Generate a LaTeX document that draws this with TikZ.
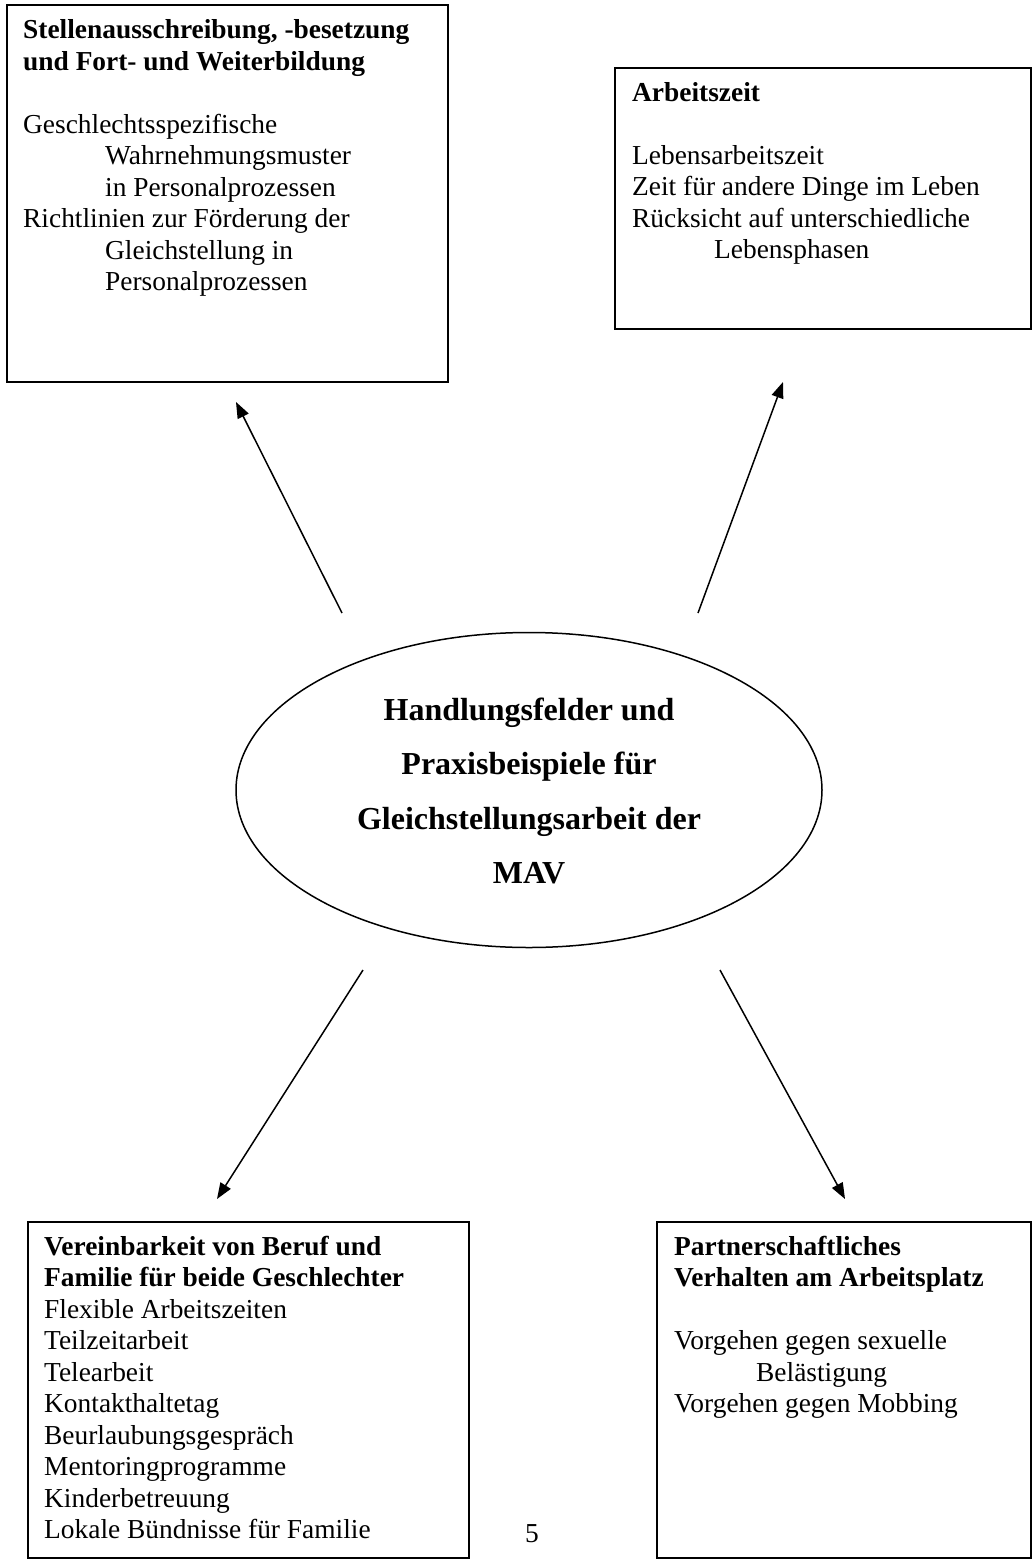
\documentclass[tikz,border=0pt]{standalone}
\usepackage{fontspec}
\setmainfont{Liberation Serif}
\usetikzlibrary{arrows.meta,shapes.geometric}
\newcommand\bodyfont{\fontsize{27.4pt}{31.5pt}\selectfont}
\newcommand\centerfont{\fontsize{32pt}{54.5pt}\selectfont\bfseries}
\newcommand\ind{\hspace*{82pt}}
\tikzset{
  frame/.style={draw, line width=1.8pt, rectangle, inner sep=0pt, anchor=north west},
  txt/.style={anchor=base west, inner sep=0pt, font=\bodyfont},
  arr/.style={line width=1.5pt, -{Triangle[length=16pt,width=12pt]}},
}
\begin{document}
\begin{tikzpicture}[x=1pt,y=-1pt]
\useasboundingbox (0,0) rectangle (1032,1563);

% boxes
\node[frame, minimum width=441pt, minimum height=377pt] (boxA) at (6,4) {};
\node[frame, minimum width=416pt, minimum height=261pt] (boxB) at (614,67) {};
\node[frame, minimum width=441pt, minimum height=336pt] (boxC) at (27,1221) {};
\node[frame, minimum width=374pt, minimum height=336pt] (boxD) at (656,1221) {};

% centre ellipse
\node[draw, ellipse, line width=1.5pt, minimum width=586pt, minimum height=315pt, inner sep=0pt] (centre) at (529,790) {};
\node[anchor=base, inner sep=0pt, font=\centerfont] (centretext) at (529,720)
  {\begin{tabular}[t]{@{}c@{}}Handlungsfelder und\\ Praxisbeispiele für\\ Gleichstellungsarbeit der\\ MAV\end{tabular}};

% box texts
\node[txt] (textA) at (23,39) {\begin{tabular}[t]{@{}l@{}}
\textbf{Stellenausschreibung, -besetzung}\\
\textbf{und Fort- und Weiterbildung}\\
\\
Geschlechtsspezifische\\
\ind Wahrnehmungsmuster\\
\ind in Personalprozessen\\
Richtlinien zur Förderung der\\
\ind Gleichstellung in\\
\ind Personalprozessen
\end{tabular}};

\node[txt] (textB) at (632,101) {\begin{tabular}[t]{@{}l@{}}
\textbf{Arbeitszeit}\\
\\
Lebensarbeitszeit\\
Zeit für andere Dinge im Leben\\
Rücksicht auf unterschiedliche\\
\ind Lebensphasen
\end{tabular}};

\node[txt] (textC) at (44,1255) {\begin{tabular}[t]{@{}l@{}}
\textbf{Vereinbarkeit von Beruf und}\\
\textbf{Familie für beide Geschlechter}\\
Flexible Arbeitszeiten\\
Teilzeitarbeit\\
Telearbeit\\
Kontakthaltetag\\
Beurlaubungsgespräch\\
Mentoringprogramme\\
Kinderbetreuung\\
Lokale Bündnisse für Familie
\end{tabular}};

\node[txt] (textD) at (674,1255) {\begin{tabular}[t]{@{}l@{}}
\textbf{Partnerschaftliches}\\
\textbf{Verhalten am Arbeitsplatz}\\
\\
Vorgehen gegen sexuelle\\
\ind Belästigung\\
Vorgehen gegen Mobbing
\end{tabular}};

% page number
\node[anchor=base, inner sep=0pt, font=\bodyfont] (pagenum) at (532,1542) {5};

% arrows
\coordinate (s1) at (342,613); \coordinate (e1) at (236,402);
\coordinate (s2) at (698,613); \coordinate (e2) at (783,382);
\coordinate (s3) at (363,970); \coordinate (e3) at (217,1199);
\coordinate (s4) at (720,970); \coordinate (e4) at (845,1199);
\draw[arr] (s1) -- (e1);
\draw[arr] (s2) -- (e2);
\draw[arr] (s3) -- (e3);
\draw[arr] (s4) -- (e4);
\end{tikzpicture}
\end{document}
